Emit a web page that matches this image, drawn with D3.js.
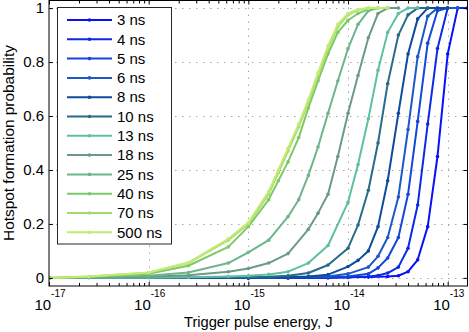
<!DOCTYPE html>
<html>
<head>
<meta charset="utf-8">
<script src="https://cdn.jsdelivr.net/npm/d3@7"></script>
<style>
  html, body { margin: 0; padding: 0; background: #fff; }
  svg { display: block; font-family: "Liberation Sans", Arial, Helvetica, sans-serif; }
</style>
</head>
<body>
<svg id="chart" width="469" height="332"></svg>
<script>
// Hotspot formation probability vs trigger pulse energy, one curve per pulse width.
var seriesNames = ['3 ns', '4 ns', '5 ns', '6 ns', '8 ns', '10 ns', '13 ns', '18 ns', '25 ns', '40 ns', '70 ns', '500 ns'];
var seriesColors = ['#0a10f8', '#0c2ae6', '#1446d8', '#1c58c6', '#0d4b9c', '#276c88', '#5ebfa3', '#6b9b86', '#6db58a', '#7dc868', '#a4db6c', '#c3ea72'];

// [energy J, probability]
var s3ns = [[1e-17, 0], [1e-15, 0], [2.5e-15, 0], [6.3e-15, 0.001], [1e-14, 0.002], [1.6e-14, 0.003], [2.5e-14, 0.005],
  [3.2e-14, 0.008], [4e-14, 0.023], [5e-14, 0.067], [6.3e-14, 0.19], [7.9e-14, 0.45], [1e-13, 0.83], [1.26e-13, 1], [1.58e-13, 1]];
var s4ns = [[1e-17, 0], [1e-15, 0], [2.5e-15, 0], [6.3e-15, 0.001], [1e-14, 0.002], [1.6e-14, 0.005], [2e-14, 0.009],
  [2.5e-14, 0.018], [3.2e-14, 0.04], [4e-14, 0.11], [5e-14, 0.27], [6.3e-14, 0.57], [7.9e-14, 0.85], [1e-13, 1], [1.26e-13, 1], [1.58e-13, 1]];
var s5ns = [[1e-17, 0], [1e-15, 0], [4e-15, 0.002], [1e-14, 0.005], [1.6e-14, 0.015], [2e-14, 0.037], [2.5e-14, 0.074],
  [3.2e-14, 0.15], [4e-14, 0.31], [5e-14, 0.58], [6.3e-14, 0.87], [7.9e-14, 0.99], [1e-13, 1], [1.26e-13, 1]];
var s6ns = [[1e-17, 0], [1e-15, 0], [2.5e-15, 0.002], [6.3e-15, 0.005], [1e-14, 0.015], [1.6e-14, 0.04], [2e-14, 0.08],
  [2.5e-14, 0.15], [3.2e-14, 0.3], [4e-14, 0.55], [5e-14, 0.82], [6.3e-14, 0.97], [7.9e-14, 1], [1e-13, 1], [1.26e-13, 1]];
var s8ns = [[1e-17, 0], [1e-15, 0.001], [2.5e-15, 0.003], [4e-15, 0.005], [6.3e-15, 0.012], [1e-14, 0.042], [1.26e-14, 0.065],
  [1.6e-14, 0.1], [2e-14, 0.19], [2.5e-14, 0.36], [3.2e-14, 0.61], [4e-14, 0.83], [5e-14, 0.96], [6.3e-14, 1], [7.9e-14, 1], [1e-13, 1]];
var s10ns = [[1e-17, 0], [1e-15, 0.002], [1.6e-15, 0.004], [2.5e-15, 0.008], [4e-15, 0.018], [6.3e-15, 0.048], [1e-14, 0.11],
  [1.26e-14, 0.196], [1.6e-14, 0.325], [2e-14, 0.5], [2.5e-14, 0.72], [3.2e-14, 0.9], [4e-14, 0.975], [5e-14, 1], [6.3e-14, 1]];
var s13ns = [[1e-17, 0], [1e-16, 0.001], [2.5e-16, 0.002], [6.3e-16, 0.005], [1e-15, 0.008], [1.6e-15, 0.013], [2.5e-15, 0.023],
  [4e-15, 0.055], [6.3e-15, 0.12], [1e-14, 0.28], [1.26e-14, 0.42], [1.6e-14, 0.59], [2e-14, 0.77], [2.5e-14, 0.91],
  [3.2e-14, 0.98], [4e-14, 1], [5e-14, 1]];
var s18ns = [[1e-17, 0], [2.5e-17, 0.001], [1e-16, 0.004], [2.5e-16, 0.01], [6.3e-16, 0.023], [1e-15, 0.035], [1.6e-15, 0.055],
  [2.5e-15, 0.09], [4e-15, 0.18], [5e-15, 0.24], [6.3e-15, 0.31], [7.9e-15, 0.45], [1e-14, 0.61], [1.26e-14, 0.75],
  [1.6e-14, 0.89], [2e-14, 0.98], [2.5e-14, 1], [3.2e-14, 1]];
var s25ns = [[1e-17, 0], [2.5e-17, 0.002], [1e-16, 0.008], [2.5e-16, 0.02], [6.3e-16, 0.055], [1e-15, 0.095], [1.6e-15, 0.14],
  [2.5e-15, 0.227], [3.2e-15, 0.29], [4e-15, 0.38], [5e-15, 0.485], [6.3e-15, 0.61], [7.9e-15, 0.73], [1e-14, 0.85],
  [1.26e-14, 0.94], [1.6e-14, 0.99], [2e-14, 1], [2.5e-14, 1]];
var s40ns = [[1e-17, 0], [2.5e-17, 0.004], [1e-16, 0.015], [2.5e-16, 0.045], [6.3e-16, 0.115], [1e-15, 0.19], [1.6e-15, 0.29],
  [2e-15, 0.36], [2.5e-15, 0.43], [3.2e-15, 0.52], [4e-15, 0.63], [5e-15, 0.73], [6.3e-15, 0.83], [7.9e-15, 0.91],
  [1e-14, 0.955], [1.26e-14, 0.98], [1.6e-14, 0.995], [2e-14, 1], [2.5e-14, 1]];
var s70ns = [[1e-17, 0], [2.5e-17, 0.005], [1e-16, 0.019], [2.5e-16, 0.055], [6.3e-16, 0.14], [1e-15, 0.2], [1.6e-15, 0.31],
  [2e-15, 0.39], [2.5e-15, 0.47], [3.2e-15, 0.56], [4e-15, 0.65], [5e-15, 0.75], [6.3e-15, 0.85], [7.9e-15, 0.93],
  [1e-14, 0.975], [1.26e-14, 0.993], [1.6e-14, 1], [2e-14, 1], [2.5e-14, 1]];
var s500ns = [[1e-17, 0], [2.5e-17, 0.005], [1e-16, 0.02], [2.5e-16, 0.057], [6.3e-16, 0.145], [1e-15, 0.205], [1.6e-15, 0.32],
  [2e-15, 0.4], [2.5e-15, 0.48], [3.2e-15, 0.57], [4e-15, 0.66], [5e-15, 0.76], [6.3e-15, 0.86], [7.9e-15, 0.94],
  [1e-14, 0.98], [1.26e-14, 0.995], [1.6e-14, 1], [2e-14, 1], [2.5e-14, 1]];

var seriesData = [s3ns, s4ns, s5ns, s6ns, s8ns, s10ns, s13ns, s18ns, s25ns, s40ns, s70ns, s500ns];

var xTicks = [1e-17, 1e-16, 1e-15, 1e-14, 1e-13];
var xTickExp = ['-17', '-16', '-15', '-14', '-13'];
var yTicks = [0, 0.2, 0.4, 0.6, 0.8, 1];
var yTickLabels = ['0', '0.2', '0.4', '0.6', '0.8', '1'];

(function () {
  var svg = d3.select('#chart');
  var L = 49, R = 467.5, T = 0.5, B = 286;

  var x = d3.scaleLog().domain([1e-17, 1.58e-13]).range([L, R]);
  var y = d3.scaleLinear().domain([-0.03, 1.03]).range([B, T - 0.5]);

  svg.append('defs').append('clipPath').attr('id', 'plotclip')
    .append('rect').attr('x', L).attr('y', T).attr('width', R - L).attr('height', B - T);

  // dotted grid
  var grid = svg.append('g').attr('stroke', '#a8a8a8').attr('stroke-width', 1).attr('stroke-dasharray', '1.5,5.5');
  xTicks.slice(1).forEach(function (t) {
    grid.append('line').attr('x1', Math.round(x(t)) + 0.5).attr('x2', Math.round(x(t)) + 0.5).attr('y1', T).attr('y2', B);
  });
  yTicks.forEach(function (t) {
    grid.append('line').attr('x1', L).attr('x2', R).attr('y1', Math.round(y(t)) + 0.5).attr('y2', Math.round(y(t)) + 0.5);
  });

  // curves
  var line = d3.line().x(function (d) { return x(d[0]); }).y(function (d) { return y(d[1]); });
  var plot = svg.append('g').attr('clip-path', 'url(#plotclip)');
  seriesData.forEach(function (data, i) {
    var g = plot.append('g');
    g.append('path').datum(data).attr('d', line)
      .attr('fill', 'none').attr('stroke', seriesColors[i]).attr('stroke-width', 2)
      .attr('stroke-linejoin', 'round');
    g.selectAll('circle').data(data).enter().append('circle')
      .attr('cx', function (d) { return x(d[0]); })
      .attr('cy', function (d) { return y(d[1]); })
      .attr('r', 1.8).attr('fill', seriesColors[i]);
  });

  // axes box and ticks (inward, MATLAB style)
  var minor = [];
  for (var e = -17; e <= -13; e++) {
    for (var m = 2; m <= 9; m++) {
      var v = m * Math.pow(10, e);
      if (v < 1.58e-13) minor.push(v);
    }
  }

  function styleAxis(g) {
    g.select('.domain').remove();
    g.selectAll('.tick line').attr('stroke', '#000');
  }

  svg.append('g').attr('transform', 'translate(0,' + B + ')')
    .call(d3.axisBottom(x).tickValues(xTicks).tickSize(-4).tickFormat(''))
    .call(styleAxis);
  svg.append('g').attr('transform', 'translate(0,' + B + ')')
    .call(d3.axisBottom(x).tickValues(minor).tickSize(-3).tickFormat(''))
    .call(styleAxis);
  svg.append('g').attr('transform', 'translate(0,' + T + ')')
    .call(d3.axisTop(x).tickValues(xTicks).tickSize(-4).tickFormat(''))
    .call(styleAxis);
  svg.append('g').attr('transform', 'translate(0,' + T + ')')
    .call(d3.axisTop(x).tickValues(minor).tickSize(-3).tickFormat(''))
    .call(styleAxis);

  var yAxis = svg.append('g').attr('transform', 'translate(' + L + ',0)')
    .call(d3.axisLeft(y).tickValues(yTicks).tickSize(-4).tickPadding(5)
      .tickFormat(function (d, i) { return yTickLabels[i]; }))
    .call(styleAxis);
  yAxis.selectAll('text').attr('font-size', 15).attr('fill', '#000')
    .attr('font-family', '"Liberation Sans", Arial, sans-serif');
  svg.append('g').attr('transform', 'translate(' + R + ',0)')
    .call(d3.axisRight(y).tickValues(yTicks).tickSize(-4).tickFormat(''))
    .call(styleAxis);

  svg.append('rect').attr('x', L).attr('y', T).attr('width', R - L).attr('height', B - T)
    .attr('fill', 'none').attr('stroke', '#000').attr('stroke-width', 1);

  // x tick labels as 10^n
  xTicks.forEach(function (t, i) {
    var txt = svg.append('text').attr('x', x(t) + 1).attr('y', 310)
      .attr('text-anchor', 'middle').attr('fill', '#000');
    txt.append('tspan').attr('font-size', 15).text('10');
    txt.append('tspan').attr('font-size', 10).attr('dy', -13).text(xTickExp[i]);
  });

  // axis titles
  svg.append('text').attr('x', (L + R) / 2).attr('y', 327).attr('text-anchor', 'middle')
    .attr('font-size', 14.7).attr('fill', '#000').text('Trigger pulse energy, J');
  svg.append('text').attr('transform', 'translate(14,143) rotate(-90)').attr('text-anchor', 'middle')
    .attr('font-size', 15.4).attr('fill', '#000').text('Hotspot formation probability');

  // legend
  var lg = svg.append('g');
  lg.append('rect').attr('x', 57.5).attr('y', 7.5).attr('width', 114).attr('height', 236.5)
    .attr('fill', '#fff').attr('stroke', '#262626').attr('stroke-width', 1);
  seriesNames.forEach(function (name, i) {
    var yy = 20 + i * 19.3;
    lg.append('line').attr('x1', 67).attr('x2', 112).attr('y1', yy).attr('y2', yy)
      .attr('stroke', seriesColors[i]).attr('stroke-width', 2);
    lg.append('circle').attr('cx', 89.5).attr('cy', yy).attr('r', 1.8).attr('fill', seriesColors[i]);
    lg.append('text').attr('x', 117).attr('y', yy).attr('dy', '0.35em')
      .attr('font-size', 15).attr('fill', '#000').text(name);
  });
})();
</script>
</body>
</html>
